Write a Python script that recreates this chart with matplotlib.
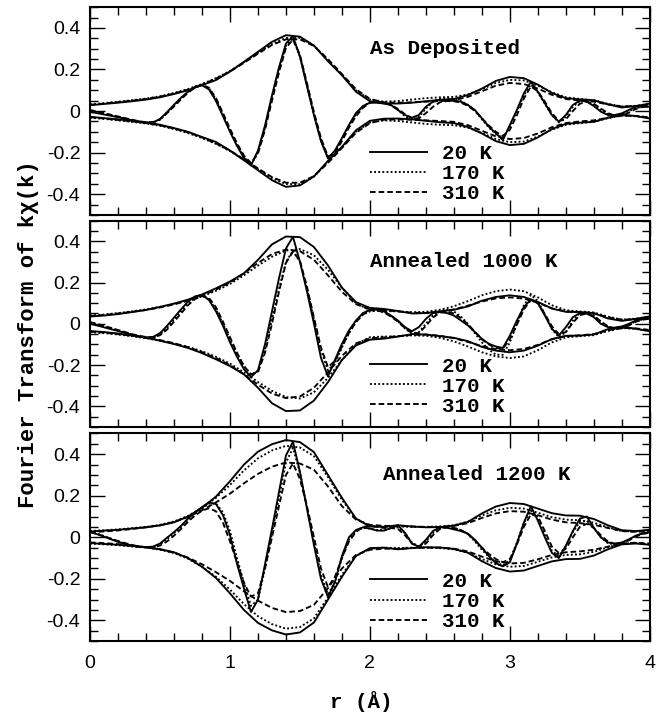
import numpy as np
import matplotlib
matplotlib.use("Agg")
import matplotlib.pyplot as plt
from matplotlib.ticker import MultipleLocator, FuncFormatter

plt.rcParams["axes.unicode_minus"] = False

# ── sampling grids (r in Angstrom) ──────────────────────────────────────────
R_ENV = np.linspace(0.0, 4.0, 41)   # magnitude |FT|, every 0.1 A
R_RE = np.linspace(0.0, 4.0, 81)    # real part, every 0.05 A

TEMPS = ["20 K", "170 K", "310 K"]

# ── As Deposited ────────────────────────────────────────────────────────────
ENV_AD_20 = [0.028, 0.034, 0.040, 0.047, 0.055, 0.066, 0.082, 0.100, 0.125, 0.149,
             0.190, 0.237, 0.285, 0.333, 0.365, 0.358, 0.315, 0.240, 0.172, 0.093,
             0.047, 0.037, 0.036, 0.040, 0.047, 0.054, 0.058, 0.077, 0.108, 0.145,
             0.164, 0.158, 0.127, 0.087, 0.062, 0.056, 0.052, 0.032, 0.017, 0.024,
             0.036]
ENV_AD_170 = [0.032, 0.038, 0.045, 0.052, 0.060, 0.071, 0.087, 0.106, 0.130, 0.158,
              0.193, 0.235, 0.280, 0.323, 0.352, 0.352, 0.315, 0.245, 0.175, 0.100,
              0.055, 0.045, 0.048, 0.055, 0.062, 0.066, 0.068, 0.080, 0.105, 0.135,
              0.150, 0.147, 0.123, 0.090, 0.066, 0.058, 0.052, 0.035, 0.022, 0.025,
              0.033]
ENV_AD_310 = [0.030, 0.036, 0.043, 0.050, 0.058, 0.069, 0.084, 0.103, 0.127, 0.156,
              0.190, 0.232, 0.276, 0.318, 0.345, 0.345, 0.313, 0.250, 0.178, 0.105,
              0.058, 0.042, 0.040, 0.042, 0.045, 0.048, 0.052, 0.068, 0.095, 0.122,
              0.135, 0.130, 0.108, 0.078, 0.058, 0.050, 0.045, 0.032, 0.022, 0.024,
              0.030]
RE_AD_20 = [-0.005, -0.010, -0.017, -0.023, -0.030, -0.037, -0.045, -0.051, -0.055, -0.055,
            -0.038, -0.005, 0.030, 0.064, 0.093, 0.115, 0.124, 0.104, 0.048, -0.025,
            -0.100, -0.168, -0.226, -0.262, -0.190, -0.070, 0.075, 0.210, 0.325, 0.360,
            0.262, 0.120, -0.020, -0.145, -0.228, -0.190, -0.130, -0.067, -0.010, 0.024,
            0.040, 0.040, 0.036, 0.029, 0.005, -0.019, -0.032, -0.019, 0.021, 0.045,
            0.053, 0.050, 0.050, 0.045, 0.029, 0.005, -0.035, -0.075, -0.107, -0.140,
            -0.067, 0.005, 0.085, 0.141, 0.093, 0.037, -0.019, -0.051, -0.019, 0.029,
            0.050, 0.045, 0.024, -0.003, -0.019, -0.019, -0.011, 0.005, 0.021, 0.021,
            0.021]
RE_AD_170 = [0.000, -0.006, -0.013, -0.020, -0.028, -0.036, -0.044, -0.051, -0.057, -0.056,
             -0.042, -0.010, 0.025, 0.060, 0.092, 0.117, 0.128, 0.110, 0.055, -0.018,
             -0.095, -0.163, -0.222, -0.258, -0.200, -0.080, 0.065, 0.200, 0.315, 0.350,
             0.262, 0.125, -0.015, -0.140, -0.225, -0.195, -0.135, -0.070, -0.015, 0.022,
             0.042, 0.045, 0.040, 0.028, 0.005, -0.025, -0.040, -0.028, 0.012, 0.045,
             0.060, 0.062, 0.058, 0.048, 0.030, 0.002, -0.040, -0.080, -0.110, -0.130,
             -0.075, 0.000, 0.075, 0.128, 0.090, 0.035, -0.020, -0.055, -0.028, 0.020,
             0.048, 0.048, 0.030, 0.005, -0.015, -0.022, -0.018, -0.002, 0.015, 0.020,
             0.022]
RE_AD_310 = [0.005, -0.002, -0.010, -0.018, -0.026, -0.034, -0.042, -0.049, -0.054, -0.053,
             -0.040, -0.010, 0.022, 0.056, 0.088, 0.113, 0.126, 0.112, 0.062, -0.010,
             -0.085, -0.155, -0.215, -0.250, -0.205, -0.090, 0.050, 0.185, 0.305, 0.343,
             0.270, 0.135, -0.005, -0.130, -0.220, -0.200, -0.145, -0.080, -0.025, 0.015,
             0.040, 0.045, 0.040, 0.030, 0.010, -0.015, -0.035, -0.035, -0.010, 0.020,
             0.042, 0.048, 0.047, 0.040, 0.025, 0.000, -0.035, -0.070, -0.100, -0.120,
             -0.090, -0.020, 0.060, 0.118, 0.095, 0.045, -0.010, -0.048, -0.040, 0.000,
             0.035, 0.045, 0.035, 0.012, -0.010, -0.022, -0.022, -0.008, 0.010, 0.020,
             0.022]

# ── Annealed 1000 K ─────────────────────────────────────────────────────────
ENV_A1000_20 = [0.035, 0.040, 0.047, 0.057, 0.067, 0.082, 0.098, 0.117, 0.142, 0.172,
                0.205, 0.245, 0.310, 0.385, 0.423, 0.420, 0.372, 0.283, 0.175, 0.105,
                0.077, 0.072, 0.062, 0.050, 0.052, 0.060, 0.068, 0.084, 0.112, 0.130,
                0.138, 0.130, 0.106, 0.074, 0.058, 0.057, 0.052, 0.026, 0.014, 0.024,
                0.036]
ENV_A1000_170 = [0.040, 0.045, 0.052, 0.060, 0.070, 0.082, 0.096, 0.112, 0.133, 0.160,
                 0.193, 0.235, 0.282, 0.325, 0.355, 0.362, 0.332, 0.262, 0.175, 0.100,
                 0.065, 0.062, 0.060, 0.056, 0.058, 0.068, 0.085, 0.110, 0.138, 0.158,
                 0.166, 0.158, 0.128, 0.090, 0.066, 0.060, 0.055, 0.035, 0.020, 0.025,
                 0.035]
ENV_A1000_310 = [0.038, 0.043, 0.050, 0.058, 0.067, 0.079, 0.094, 0.113, 0.137, 0.166,
                 0.200, 0.245, 0.295, 0.338, 0.360, 0.352, 0.310, 0.235, 0.155, 0.095,
                 0.070, 0.066, 0.060, 0.054, 0.052, 0.058, 0.070, 0.088, 0.108, 0.123,
                 0.128, 0.122, 0.102, 0.075, 0.060, 0.056, 0.050, 0.032, 0.020, 0.022,
                 0.030]
RE_A1000_20 = [0.000, -0.008, -0.017, -0.026, -0.035, -0.044, -0.053, -0.061, -0.066, -0.064,
               -0.045, -0.010, 0.030, 0.070, 0.108, 0.133, 0.140, 0.115, 0.060, -0.010,
               -0.090, -0.160, -0.220, -0.258, -0.225, -0.100, 0.060, 0.220, 0.365, 0.422,
               0.300, 0.157, 0.000, -0.165, -0.255, -0.175, -0.097, -0.032, 0.016, 0.052,
               0.068, 0.073, 0.061, 0.040, 0.016, -0.016, -0.036, -0.016, 0.024, 0.052,
               0.057, 0.052, 0.040, 0.016, -0.008, -0.040, -0.073, -0.097, -0.110, -0.117,
               -0.057, 0.016, 0.081, 0.118, 0.100, 0.040, -0.024, -0.057, -0.016, 0.032,
               0.052, 0.049, 0.032, 0.000, -0.016, -0.019, -0.013, 0.000, 0.016, 0.024,
               0.024]
RE_A1000_170 = [0.005, -0.004, -0.013, -0.022, -0.032, -0.042, -0.052, -0.061, -0.068, -0.068,
                -0.052, -0.020, 0.020, 0.060, 0.098, 0.125, 0.135, 0.118, 0.070, 0.000,
                -0.075, -0.145, -0.205, -0.245, -0.230, -0.125, 0.020, 0.170, 0.300, 0.355,
                0.300, 0.170, 0.020, -0.130, -0.225, -0.190, -0.115, -0.045, 0.010, 0.045,
                0.060, 0.064, 0.058, 0.040, 0.012, -0.022, -0.048, -0.040, 0.000, 0.040,
                0.062, 0.068, 0.060, 0.035, 0.000, -0.045, -0.090, -0.125, -0.150, -0.150,
                -0.090, 0.000, 0.090, 0.140, 0.110, 0.045, -0.025, -0.065, -0.040, 0.015,
                0.052, 0.055, 0.040, 0.010, -0.015, -0.025, -0.020, -0.005, 0.012, 0.022,
                0.028]
RE_A1000_310 = [0.008, 0.000, -0.010, -0.020, -0.030, -0.040, -0.050, -0.058, -0.064, -0.066,
                -0.055, -0.028, 0.010, 0.050, 0.090, 0.120, 0.135, 0.125, 0.080, 0.010,
                -0.065, -0.140, -0.205, -0.245, -0.235, -0.140, 0.000, 0.155, 0.295, 0.350,
                0.305, 0.180, 0.030, -0.115, -0.210, -0.180, -0.110, -0.045, 0.008, 0.045,
                0.065, 0.066, 0.055, 0.035, 0.010, -0.020, -0.045, -0.045, -0.010, 0.030,
                0.055, 0.058, 0.050, 0.028, -0.002, -0.038, -0.075, -0.100, -0.118, -0.120,
                -0.075, -0.005, 0.070, 0.115, 0.100, 0.048, -0.012, -0.050, -0.040, 0.005,
                0.042, 0.050, 0.038, 0.012, -0.012, -0.025, -0.022, -0.008, 0.010, 0.020,
                0.025]

# ── Annealed 1200 K ─────────────────────────────────────────────────────────
ENV_A1200_20 = [0.028, 0.032, 0.036, 0.042, 0.048, 0.057, 0.072, 0.100, 0.142, 0.196,
                0.270, 0.350, 0.412, 0.448, 0.468, 0.458, 0.410, 0.300, 0.190, 0.090,
                0.052, 0.050, 0.058, 0.052, 0.048, 0.049, 0.056, 0.074, 0.115, 0.148,
                0.165, 0.160, 0.138, 0.116, 0.105, 0.104, 0.088, 0.058, 0.034, 0.030,
                0.036]
ENV_A1200_170 = [0.030, 0.034, 0.038, 0.044, 0.050, 0.060, 0.076, 0.103, 0.142, 0.190,
                 0.252, 0.322, 0.380, 0.418, 0.440, 0.432, 0.390, 0.290, 0.180, 0.090,
                 0.055, 0.050, 0.052, 0.050, 0.050, 0.052, 0.058, 0.075, 0.105, 0.130,
                 0.142, 0.138, 0.118, 0.097, 0.085, 0.082, 0.070, 0.048, 0.030, 0.028,
                 0.034]
ENV_A1200_310 = [0.025, 0.028, 0.033, 0.040, 0.048, 0.058, 0.074, 0.098, 0.130, 0.168,
                 0.210, 0.260, 0.305, 0.340, 0.360, 0.355, 0.325, 0.245, 0.150, 0.085,
                 0.060, 0.055, 0.055, 0.052, 0.050, 0.050, 0.055, 0.068, 0.093, 0.115,
                 0.126, 0.123, 0.106, 0.085, 0.072, 0.068, 0.060, 0.045, 0.030, 0.026,
                 0.030]
RE_A1200_20 = [0.025, 0.015, 0.003, -0.010, -0.022, -0.032, -0.040, -0.045, -0.047, -0.045,
               -0.030, -0.002, 0.025, 0.055, 0.090, 0.120, 0.145, 0.168, 0.160, 0.106,
               0.010, -0.127, -0.247, -0.360, -0.300, -0.130, 0.040, 0.218, 0.394, 0.460,
               0.314, 0.138, -0.038, -0.200, -0.287, -0.215, -0.090, 0.000, 0.035, 0.048,
               0.042, 0.032, 0.032, 0.045, 0.058, 0.022, -0.030, -0.045, -0.012, 0.030,
               0.048, 0.046, 0.038, 0.030, 0.018, -0.012, -0.050, -0.090, -0.125, -0.140,
               -0.120, -0.030, 0.070, 0.150, 0.080, 0.000, -0.075, -0.100, -0.040, 0.030,
               0.090, 0.100, 0.045, 0.000, -0.025, -0.030, -0.025, -0.010, 0.008, 0.020,
               0.025]
RE_A1200_170 = [0.028, 0.018, 0.006, -0.007, -0.020, -0.031, -0.040, -0.046, -0.049, -0.047,
                -0.034, -0.008, 0.020, 0.050, 0.085, 0.115, 0.140, 0.162, 0.162, 0.120,
                0.030, -0.100, -0.220, -0.330, -0.300, -0.150, 0.020, 0.190, 0.360, 0.430,
                0.310, 0.145, -0.025, -0.180, -0.275, -0.215, -0.100, -0.010, 0.030, 0.045,
                0.042, 0.035, 0.035, 0.043, 0.048, 0.020, -0.025, -0.045, -0.020, 0.020,
                0.045, 0.050, 0.045, 0.035, 0.015, -0.020, -0.060, -0.095, -0.120, -0.135,
                -0.110, -0.025, 0.070, 0.130, 0.095, 0.010, -0.065, -0.090, -0.045, 0.025,
                0.075, 0.080, 0.045, 0.000, -0.028, -0.035, -0.028, -0.012, 0.006, 0.018,
                0.025]
RE_A1200_310 = [0.025, 0.016, 0.005, -0.007, -0.018, -0.028, -0.037, -0.044, -0.048, -0.048,
                -0.040, -0.020, 0.008, 0.040, 0.075, 0.105, 0.128, 0.140, 0.125, 0.070,
                -0.020, -0.120, -0.220, -0.285, -0.270, -0.150, 0.000, 0.150, 0.300, 0.355,
                0.280, 0.150, 0.000, -0.150, -0.240, -0.190, -0.100, -0.020, 0.025, 0.050,
                0.055, 0.050, 0.045, 0.045, 0.040, 0.010, -0.030, -0.048, -0.030, 0.010,
                0.040, 0.048, 0.045, 0.035, 0.015, -0.015, -0.050, -0.080, -0.105, -0.120,
                -0.105, -0.035, 0.050, 0.110, 0.100, 0.030, -0.045, -0.075, -0.055, 0.000,
                0.050, 0.065, 0.045, 0.010, -0.020, -0.032, -0.028, -0.015, 0.004, 0.016,
                0.022]

# (label, label x, legend top y) per panel
PANELS = [
    ("As Deposited", 0.500, 0.342, [ENV_AD_20, ENV_AD_170, ENV_AD_310],
     [RE_AD_20, RE_AD_170, RE_AD_310]),
    ("Annealed 1000 K", 0.500, 0.341, [ENV_A1000_20, ENV_A1000_170, ENV_A1000_310],
     [RE_A1000_20, RE_A1000_170, RE_A1000_310]),
    ("Annealed 1200 K", 0.523, 0.334, [ENV_A1200_20, ENV_A1200_170, ENV_A1200_310],
     [RE_A1200_20, RE_A1200_170, RE_A1200_310]),
]

STYLES = ["-", (0, (1.0, 1.2)), (0, (3.0, 1.6))]
MONO = ["Liberation Mono", "DejaVu Sans Mono"]
LW = 1.35

fig = plt.figure(figsize=(6.72, 7.14), dpi=100)
# panel boxes in figure fractions: [left, bottom, width, height]
boxes = [[0.134, 0.699, 0.833, 0.291],
         [0.134, 0.402, 0.833, 0.289],
         [0.134, 0.102, 0.833, 0.291]]


def fmt_y(v, _):
    if abs(v) < 1e-9:
        return "0"
    return f"{v:.1f}"


for i, (label, lab_x, leg_y, envs, reals) in enumerate(PANELS):
    ax = fig.add_axes(boxes[i])
    for env, re_, ls in zip(envs, reals, STYLES):
        env = np.asarray(env)
        ax.plot(R_ENV, env, color="black", ls=ls, lw=LW)
        ax.plot(R_ENV, -env, color="black", ls=ls, lw=LW)
        ax.plot(R_RE, re_, color="black", ls=ls, lw=LW)

    ax.set_xlim(0, 4)
    ax.set_ylim(-0.5, 0.5)
    ax.xaxis.set_major_locator(MultipleLocator(1))
    ax.xaxis.set_minor_locator(MultipleLocator(0.2))
    ax.yaxis.set_major_locator(MultipleLocator(0.2))
    ax.yaxis.set_minor_locator(MultipleLocator(0.05))
    ax.yaxis.set_major_formatter(FuncFormatter(fmt_y))
    ax.tick_params(which="both", direction="in", top=True, right=True, width=1.0)
    ax.tick_params(which="major", length=11, labelsize=14, pad=7)
    ax.tick_params(which="minor", length=5.5)
    ax.tick_params(axis="x", which="major", pad=10)
    for lbl in ax.get_xticklabels() + ax.get_yticklabels():
        lbl.set_family("Liberation Sans")
    if i < 2:
        ax.tick_params(axis="x", labelbottom=False)
    for sp in ax.spines.values():
        sp.set_linewidth(1.5)

    ax.text(lab_x, 0.80, label, transform=ax.transAxes, ha="left", va="center",
            fontsize=15, fontweight="bold", family=MONO)

    handles = ax.get_lines()[2::3]
    ax.legend(handles, TEMPS, loc="upper left", bbox_to_anchor=(0.5, leg_y),
              frameon=False, handlelength=2.74, handletextpad=0.72,
              labelspacing=0.05, borderpad=0.0, borderaxespad=0.0,
              prop={"family": MONO, "weight": "bold", "size": 15})

    if i == 2:
        ax.set_xlabel("r (\u00c5)", fontsize=15, fontweight="bold", family=MONO, va="center")
        ax.xaxis.set_label_coords(0.484, -0.288)

fig.text(0.043, 0.532, "Fourier Transform of k\u03c7(k)", rotation=90, ha="center",
         va="center", fontsize=16, fontweight="bold", family=MONO)

fig.savefig("out.png", dpi=100)
